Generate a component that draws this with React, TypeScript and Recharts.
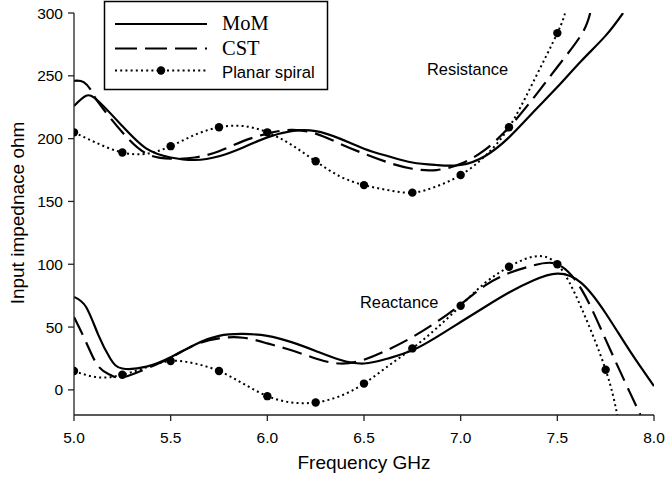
import { LineChart, Line, XAxis, YAxis } from 'recharts';

// frequency (GHz) / value (ohm) pairs
const momResFreq = [5.0, 5.06, 5.125, 5.25, 5.375, 5.5, 5.625, 5.75, 5.875, 6.0, 6.125, 6.25, 6.375, 6.5, 6.625, 6.75, 6.875, 7.0, 7.125, 7.25, 7.375, 7.5, 7.625, 7.75, 7.84];
const momResVal = [226, 234, 230, 210, 192, 185, 183, 186, 193, 201, 206, 206, 200, 192, 186, 181, 179, 179, 186, 201, 221, 241, 262, 282, 300];

const cstResFreq = [5.0, 5.05, 5.09, 5.125, 5.25, 5.375, 5.5, 5.625, 5.75, 5.875, 6.0, 6.125, 6.25, 6.375, 6.5, 6.625, 6.75, 6.875, 7.0, 7.125, 7.25, 7.375, 7.5, 7.625, 7.67];
const cstResVal = [246, 245, 238, 229, 205, 188, 184, 185, 190, 198, 204, 207, 204, 196, 188, 181, 176, 175, 180, 191, 209, 232, 257, 283, 300];

const spiralResFreq = [5.0, 5.125, 5.25, 5.375, 5.5, 5.625, 5.75, 5.875, 6.0, 6.125, 6.25, 6.375, 6.5, 6.625, 6.75, 6.875, 7.0, 7.125, 7.25, 7.375, 7.5, 7.54];
const spiralResVal = [205, 196, 189, 188, 194, 203, 209, 210, 205, 195, 182, 170, 163, 159, 157, 162, 171, 186, 209, 245, 284, 300];

const momReaFreq = [5.0, 5.0625, 5.125, 5.1875, 5.25, 5.375, 5.5, 5.625, 5.75, 5.875, 6.0, 6.125, 6.25, 6.375, 6.5, 6.625, 6.75, 6.875, 7.0, 7.125, 7.25, 7.375, 7.5, 7.625, 7.75, 7.875, 8.0];
const momReaVal = [74, 66, 44, 25, 17, 18.5, 26, 36, 43, 44.5, 43, 38, 31, 24, 21, 25, 31.5, 42, 54, 66, 77.5, 87, 92.5, 85, 61, 31, 3];

const cstReaFreq = [5.0, 5.0625, 5.125, 5.1875, 5.25, 5.375, 5.5, 5.625, 5.75, 5.875, 6.0, 6.125, 6.25, 6.375, 6.5, 6.625, 6.75, 6.875, 7.0, 7.125, 7.25, 7.375, 7.5, 7.625, 7.75, 7.875, 7.93];
const cstReaVal = [58, 38, 19, 12, 10, 17, 25.6, 35.7, 41, 41.5, 37, 31.5, 25, 21, 24, 32, 42, 54, 68, 83, 93, 99, 100, 80, 40, -2, -20];

const spiralReaFreq = [5.0, 5.125, 5.25, 5.375, 5.5, 5.625, 5.75, 5.875, 6.0, 6.125, 6.25, 6.375, 6.5, 6.625, 6.75, 6.875, 7.0, 7.125, 7.25, 7.375, 7.5, 7.625, 7.75, 7.81];
const spiralReaVal = [15, 10, 12, 18, 23, 21, 15, 5, -5, -10, -10, -5, 5, 19, 33, 49, 67, 85, 98, 106, 100, 65, 16, -20];

const xTicks = [5.0, 5.5, 6.0, 6.5, 7.0, 7.5, 8.0];
const yTicks = [0, 50, 100, 150, 200, 250, 300];

const toRows = (fs: number[], vs: number[]) => fs.map((f, i) => ({ f, v: vs[i] }));

const momRes = toRows(momResFreq, momResVal);
const cstRes = toRows(cstResFreq, cstResVal);
const spiralRes = toRows(spiralResFreq, spiralResVal);
const momRea = toRows(momReaFreq, momReaVal);
const cstRea = toRows(cstReaFreq, cstReaVal);
const spiralRea = toRows(spiralReaFreq, spiralReaVal);

const sans = '"Liberation Sans", Arial, sans-serif';
const serif = '"Liberation Serif", "Times New Roman", serif';
const DASH = '20 8';
const DOT = '2 3.2';

// spiral markers only sit on the 0.25 GHz grid
const spiralDot = (p: any) => {
  const q = p.payload.f * 4;
  const key = `${p.dataKey}-${p.index}`;
  if (Math.abs(q - Math.round(q)) > 1e-6) return <g key={key} />;
  return <circle key={key} cx={p.cx} cy={p.cy} r={4.2} fill="#000" />;
};

export default function App() {
  return (
    <div style={{ position: 'absolute', left: 0, top: 0, background: '#fff' }}>
      <LineChart width={665} height={480} margin={{ top: 13, right: 11, bottom: 0, left: 0 }}>
        <XAxis
          type="number"
          dataKey="f"
          domain={[5, 8]}
          ticks={xTicks}
          allowDataOverflow
          tickFormatter={(v: number) => v.toFixed(1)}
          height={65}
          tickSize={6}
          tickMargin={11}
          stroke="#222"
          strokeWidth={1.3}
          tick={{ fill: '#000', fontSize: 15.5, fontFamily: sans }}
        />
        <YAxis
          type="number"
          dataKey="v"
          domain={[-20, 300]}
          ticks={yTicks}
          allowDataOverflow
          width={74}
          tickSize={6}
          tickMargin={5}
          stroke="#222"
          strokeWidth={1.3}
          tick={{ fill: '#000', fontSize: 15.5, fontFamily: sans }}
        />
        <Line data={momRes} dataKey="v" type="natural" stroke="#000" strokeWidth={2.2} dot={false} isAnimationActive={false} />
        <Line data={cstRes} dataKey="v" type="natural" stroke="#000" strokeWidth={2.2} strokeDasharray={DASH} dot={false} isAnimationActive={false} />
        <Line data={spiralRes} dataKey="v" type="natural" stroke="#000" strokeWidth={2} strokeDasharray={DOT} dot={spiralDot} isAnimationActive={false} />
        <Line data={momRea} dataKey="v" type="natural" stroke="#000" strokeWidth={2.2} dot={false} isAnimationActive={false} />
        <Line data={cstRea} dataKey="v" type="natural" stroke="#000" strokeWidth={2.2} strokeDasharray={DASH} dot={false} isAnimationActive={false} />
        <Line data={spiralRea} dataKey="v" type="natural" stroke="#000" strokeWidth={2} strokeDasharray={DOT} dot={spiralDot} isAnimationActive={false} />

        <text x={427} y={75} fontFamily={sans} fontSize={16.4} fill="#000">Resistance</text>
        <text x={360} y={308} fontFamily={sans} fontSize={16.4} fill="#000">Reactance</text>
        <text x={364} y={469} textAnchor="middle" fontFamily={sans} fontSize={19} fill="#000">Frequency GHz</text>
        <text transform="translate(23.5,213) rotate(-90)" textAnchor="middle" fontFamily={sans} fontSize={19} fill="#000">Input impednace ohm</text>

        <g>
          <rect x={104.5} y={1.5} width={223} height={88} fill="#fff" stroke="#000" strokeWidth={1.5} />
          <line x1={115} x2={207} y1={24} y2={24} stroke="#000" strokeWidth={2.2} />
          <line x1={115} x2={207} y1={48.5} y2={48.5} stroke="#000" strokeWidth={2.2} strokeDasharray="22 8" />
          <line x1={115} x2={207} y1={70.5} y2={70.5} stroke="#000" strokeWidth={2} strokeDasharray={DOT} />
          <circle cx={161} cy={70.5} r={4.2} fill="#000" />
          <text x={222} y={30} fontFamily={serif} fontSize={20.5} fill="#000">MoM</text>
          <text x={222} y={55} fontFamily={serif} fontSize={20.5} fill="#000">CST</text>
          <text x={222} y={77.5} fontFamily={sans} fontSize={16.7} fill="#000">Planar spiral</text>
        </g>
      </LineChart>
    </div>
  );
}
